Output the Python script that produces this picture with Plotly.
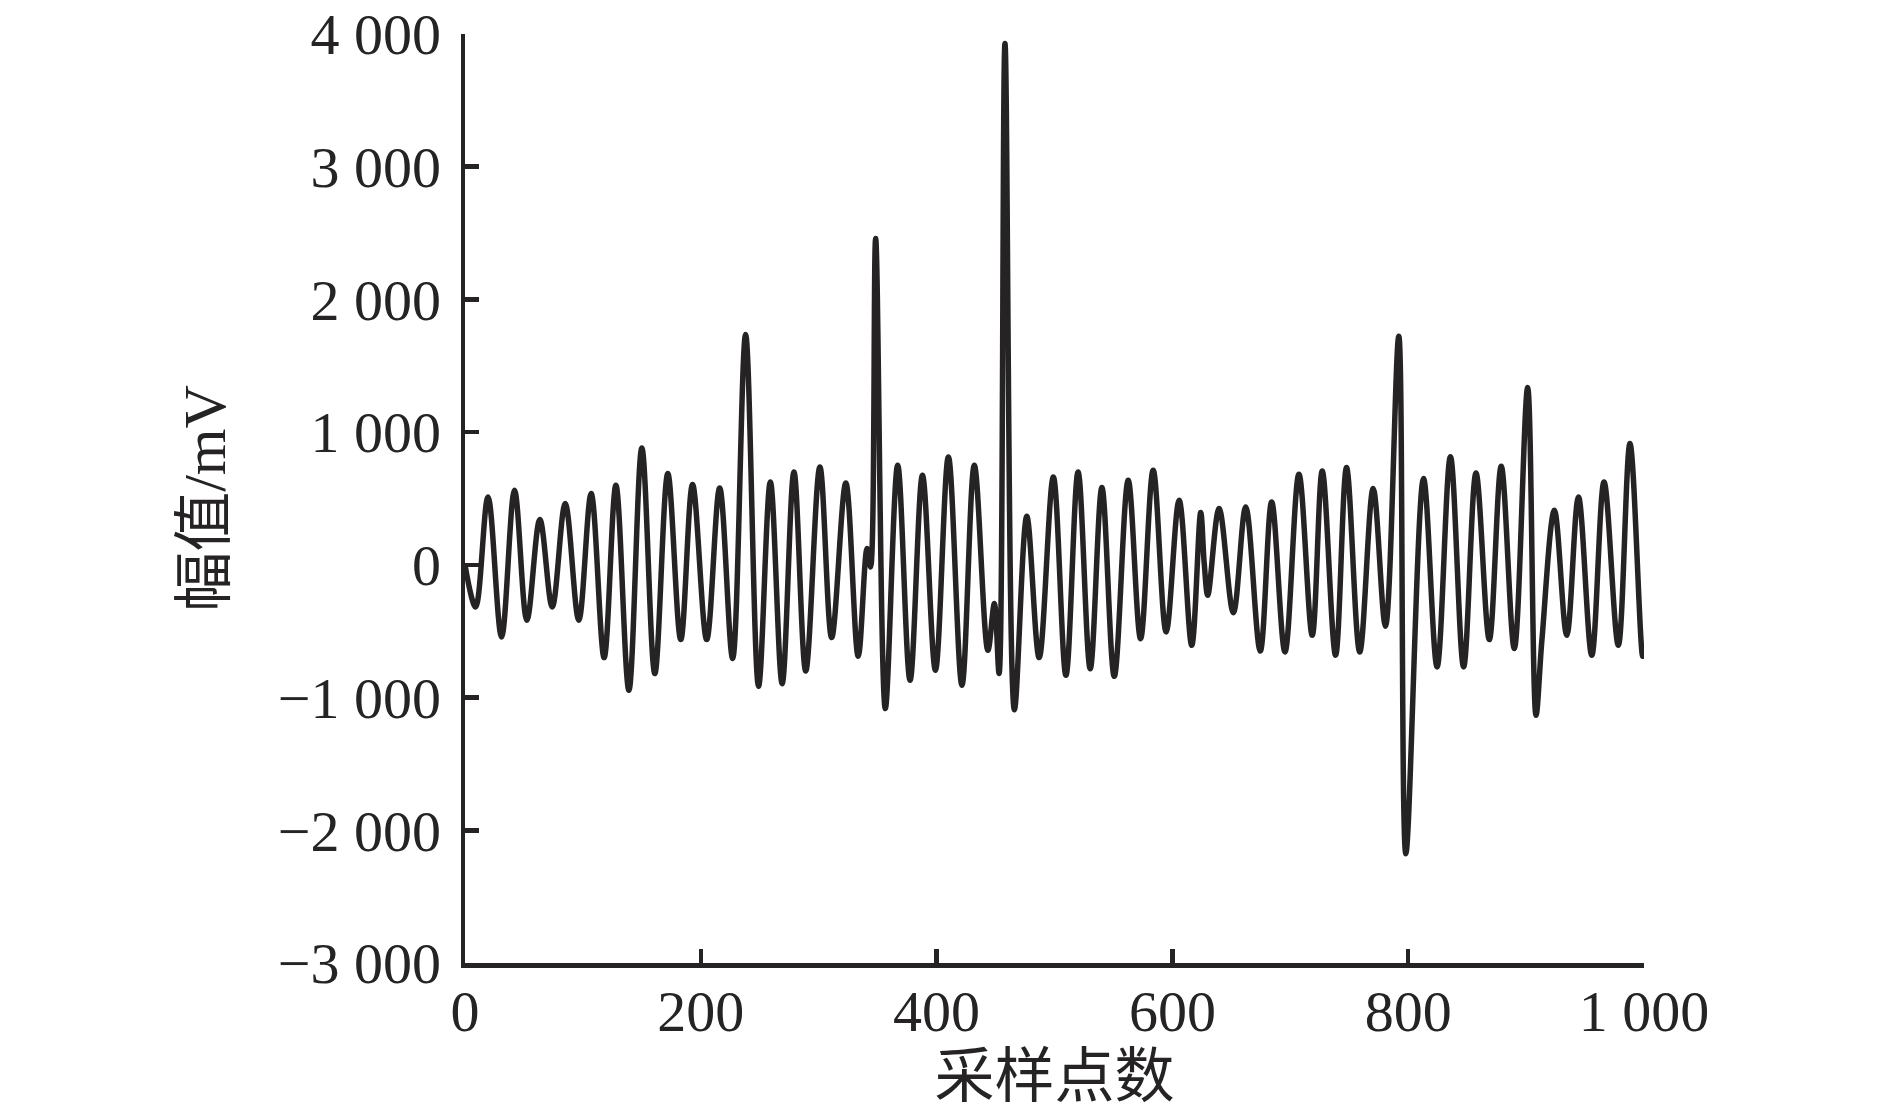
import plotly.graph_objects as go

# Sample index of each local extremum / kink
sample_idx = [0, 9, 19.5, 31, 42, 52.5, 63.5, 74, 85, 96.5, 107, 118, 128, 139, 150, 161,
              172, 183, 193, 205, 216, 227, 238, 249, 259, 269, 279, 289, 301, 311, 323,
              333.5, 341, 344, 348.3, 356.5, 367, 377.5, 388, 399, 410, 421.5, 432, 443.5,
              449, 453, 458, 466, 476.5, 487, 499, 509.7, 520, 530.3, 540.2, 550.7, 562.5,
              573, 583.7, 594.7, 605.7, 616.4, 624, 627, 630, 639.6, 651.7, 662.2, 674.5,
              684.2, 695.5, 707.3, 718.6, 727.1, 738.4, 747.7, 758.9, 770.3, 780.7, 792,
              798, 813, 824.5, 835.8, 847, 857.5, 868.8, 878.9, 890, 901.3, 908.4, 913.4,
              924, 934.5, 944.4, 955.7, 966.1, 978.2, 988.1, 998.9, 1000]

# Amplitude (mV) at those samples
amplitude_mv = [0, -317, 512, -543, 562, -417, 341, -317, 462, -417, 537, -699, 600, -945, 881, -819,
                688, -563, 605, -563, 580, -706, 1735, -915, 625, -895, 700, -800, 738, -548, 617,
                -689, 123, -16, 2459, -1083, 751, -870, 675, -794, 813, -907, 751, -644,
                -292, -819, 3928, -1091, 366, -699, 662, -832, 700, -782, 582, -840, 638,
                -556, 713, -505, 487, -606, 394, 10, -229, 424, -360, 436, -650,
                474, -656, 683, -531, 708, -681, 733, -656, 575, -463, 1723,
                -2176, 650, -769, 815, -769, 693, -563, 743, -631, 1336, -1133, -568,
                411, -531, 512, -681, 625, -606, 914, -689, -650]

x_tick_vals = [0, 200, 400, 600, 800, 1000]
x_tick_text = ["0", "200", "400", "600", "800", "1 000"]
y_tick_vals = [-3000, -2000, -1000, 0, 1000, 2000, 3000, 4000]
y_tick_text = ["\u22123 000", "\u22122 000", "\u22121 000", "0", "1 000", "2 000", "3 000", "4 000"]

x_title = "采样点数"
y_title = "幅值/mV"

ink = "#262324"
serif = "Liberation Serif, Times New Roman, Noto Sans CJK SC, serif"

fig = go.Figure()
fig.add_trace(go.Scatter(
    x=sample_idx, y=amplitude_mv, mode="lines",
    line=dict(color=ink, width=5.5, shape="spline", smoothing=1.0),
    showlegend=False, hoverinfo="skip",
))

axis_common = dict(
    showline=True, linecolor=ink, linewidth=4.5,
    ticks="inside", ticklen=14, tickwidth=4.5, tickcolor=ink,
    showgrid=False, zeroline=False, mirror=False,
    tickfont=dict(family=serif, size=58, color=ink),
    ticklabeloverflow="allow",
)

fig.update_xaxes(
    range=[0, 1000], tickvals=x_tick_vals, ticktext=x_tick_text,
    title=dict(text=x_title, font=dict(family=serif, size=60, color=ink), standoff=6),
    ticklabelstandoff=-6,
    **axis_common,
)
fig.update_yaxes(
    range=[-3000, 4000], tickvals=y_tick_vals, ticktext=y_tick_text,
    title=dict(text=y_title, font=dict(family=serif, size=60, color=ink), standoff=34),
    ticklabelstandoff=8,
    **axis_common,
)

fig.update_layout(
    width=1890, height=1120,
    margin=dict(l=465, r=246, t=34, b=157, autoexpand=False),
    paper_bgcolor="white", plot_bgcolor="white",
    font=dict(family=serif, color=ink),
    hovermode=False,
)

fig.write_html(
    "out.html",
    config={"displayModeBar": False, "staticPlot": True},
    post_script="document.body.style.margin='0';document.body.style.overflow='hidden';",
)
